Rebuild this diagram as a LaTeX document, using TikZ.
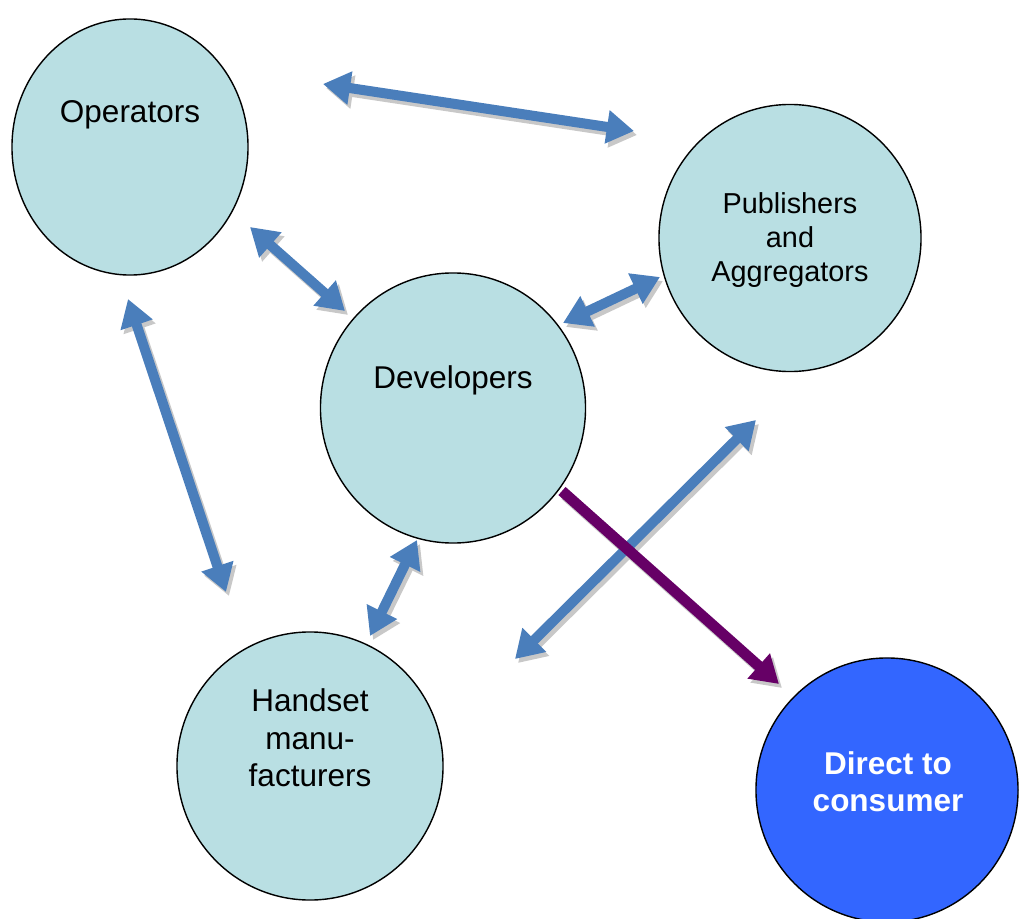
\documentclass[tikz,border=0pt]{standalone}
\usepackage{fontspec}
\setmainfont{Liberation Sans}
\usetikzlibrary{shapes.geometric,arrows.meta}
\definecolor{bubble}{HTML}{B9DFE3}
\definecolor{linkblue}{HTML}{4A7EBB}
\definecolor{linkpurple}{HTML}{660066}
\definecolor{directblue}{HTML}{3366FF}
\definecolor{shade}{HTML}{C8C8C8}
\tikzset{
  bubblenode/.style={ellipse, draw=black, line width=1pt, fill=bubble, inner sep=0pt},
  label22/.style={font=\fontsize{22.4}{26.6}\selectfont, align=center, inner sep=0pt},
  link/.style={line width=0.25cm, {Triangle[width=0.8cm,length=0.68cm]}-{Triangle[width=0.8cm,length=0.68cm]}},
  onelink/.style={line width=0.27cm, -{Triangle[width=0.8cm,length=0.68cm]}},
  drop/.style={draw=shade, transform canvas={xshift=0.075cm, yshift=-0.1cm}},
}
\begin{document}
\begin{tikzpicture}[x=0.025cm,y=-0.025cm]
\useasboundingbox (0,0) rectangle (1019,919);

% bubbles
\node[bubblenode, minimum width=5.9cm, minimum height=6.4cm] (op) at (130,147) {};
\node[bubblenode, minimum width=6.55cm, minimum height=6.675cm] (pub) at (790,238) {};
\node[bubblenode, minimum width=6.625cm, minimum height=6.75cm] (dev) at (453,408) {};
\node[bubblenode, minimum width=6.65cm, minimum height=6.7cm] (hand) at (310,766) {};
\node[bubblenode, fill=directblue, minimum width=6.55cm, minimum height=6.6cm] (dir) at (887,790) {};

% bubble texts
\node[label22] (opT) at (130,115) {Operators};
\node[label22, font=\fontsize{20.5}{24}\selectfont] (pubT) at (790,240) {Publishers\\and\\Aggregators};
\node[label22] (devT) at (453,380) {Developers};
\node[label22] (handT) at (310,738) {Handset\\manu-\\facturers};
\node[label22, font=\bfseries\fontsize{22.4}{26.6}\selectfont, text=white] (dirT) at (888,782) {Direct to\\consumer};

% link end points
\coordinate (a1) at (323,84);  \coordinate (a2) at (634,131);
\coordinate (b1) at (250,227); \coordinate (b2) at (345,311);
\coordinate (c1) at (128,299); \coordinate (c2) at (226,592);
\coordinate (d1) at (563,323); \coordinate (d2) at (660,277);
\coordinate (e1) at (417,540); \coordinate (e2) at (370,636);
\coordinate (f1) at (756,420); \coordinate (f2) at (515,659);
\coordinate (g1) at (562,491); \coordinate (g2) at (779,684);

% shadows
\foreach \s/\t in {a1/a2,b1/b2,c1/c2,d1/d2,e1/e2,f1/f2}
  \draw[link, drop, fill=shade] (\s) -- (\t);
\draw[onelink, drop, fill=shade] (g1) -- (g2);

% links
\foreach \s/\t in {a1/a2,b1/b2,c1/c2,d1/d2,e1/e2,f1/f2}
  \draw[link, draw=linkblue, fill=linkblue] (\s) -- (\t);
\draw[onelink, draw=linkpurple, fill=linkpurple] (g1) -- (g2);
\end{tikzpicture}
\end{document}
